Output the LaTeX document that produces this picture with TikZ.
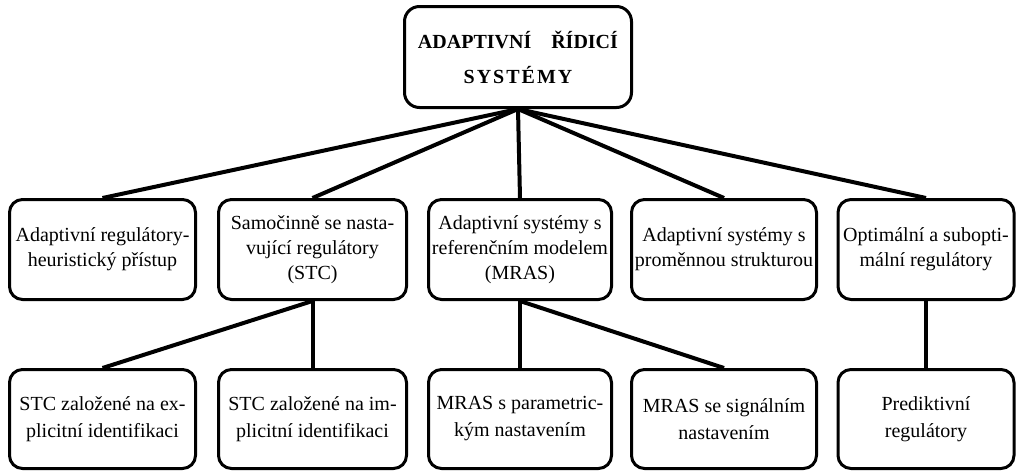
\documentclass[tikz,border=0pt]{standalone}
\usepackage{fontspec}
\setmainfont{Liberation Serif}
\begin{document}
\begin{tikzpicture}[x=1pt,y=-1pt,
  box/.style={draw, line width=3pt, rounded corners=13pt, align=center,
    inner sep=0pt, font=\fontsize{20}{25}\selectfont},
  midbox/.style={box, minimum height=100pt},
  lowbox/.style={box, minimum height=99pt, font=\fontsize{20}{27}\selectfont},
  rootbox/.style={box, rounded corners=15pt, minimum width=227pt, minimum height=101pt,
    text width=225pt},
  link/.style={line width=4pt}]
\useasboundingbox (0,0) rectangle (1018,472);

% root
\node[rootbox] (root) at (518,57)
  {\fontsize{20pt}{35pt}\selectfont\textbf{ADAPTIVNÍ\hspace*{20pt}ŘÍDICÍ}\\
   \textbf{S\kern2pt Y\kern2pt S\kern2pt T\kern2pt É\kern2pt M\kern2pt Y}\par};

% second level
\node[midbox, minimum width=186pt] (m1) at (102.5,249.5)
  {Adaptivní regulátory-\\heuristický přístup};
\node[midbox, minimum width=188pt] (m2) at (312.5,249.5)
  {Samočinně se nasta-\\vující regulátory\\(STC)};
\node[midbox, minimum width=183pt] (m3) at (520,249.5)
  {Adaptivní systémy s\\referenčním modelem\\(MRAS)};
\node[midbox, minimum width=185pt] (m4) at (724,249.5)
  {Adaptivní systémy s\\proměnnou strukturou};
\node[midbox, minimum width=176pt] (m5) at (926,249.5)
  {Optimální a subopti-\\mální regulátory};

% third level
\node[lowbox, minimum width=186pt] (b1) at (102.5,419)
  {STC založené na ex-\\plicitní identifikaci};
\node[lowbox, minimum width=188pt] (b2) at (312.5,419)
  {STC založené na im-\\plicitní identifikaci};
\node[lowbox, minimum width=183pt] (b3) at (520,419)
  {MRAS s parametric-\\kým nastavením};
\node[lowbox, minimum width=185pt] (b4) at (724,419)
  {MRAS se signálním\\nastavením};
\node[lowbox, minimum width=176pt] (b5) at (926,419)
  {Prediktivní\\regulátory};

% connectors
\foreach \m in {m1,m2,m3,m4,m5}
  \draw[link] (root.south) -- (\m.north);
\draw[link] (m2.south) -- (b1.north);
\draw[link] (m2.south) -- (b2.north);
\draw[link] (m3.south) -- (b3.north);
\draw[link] (m3.south) -- (b4.north);
\draw[link] (m5.south) -- (b5.north);
\end{tikzpicture}
\end{document}
